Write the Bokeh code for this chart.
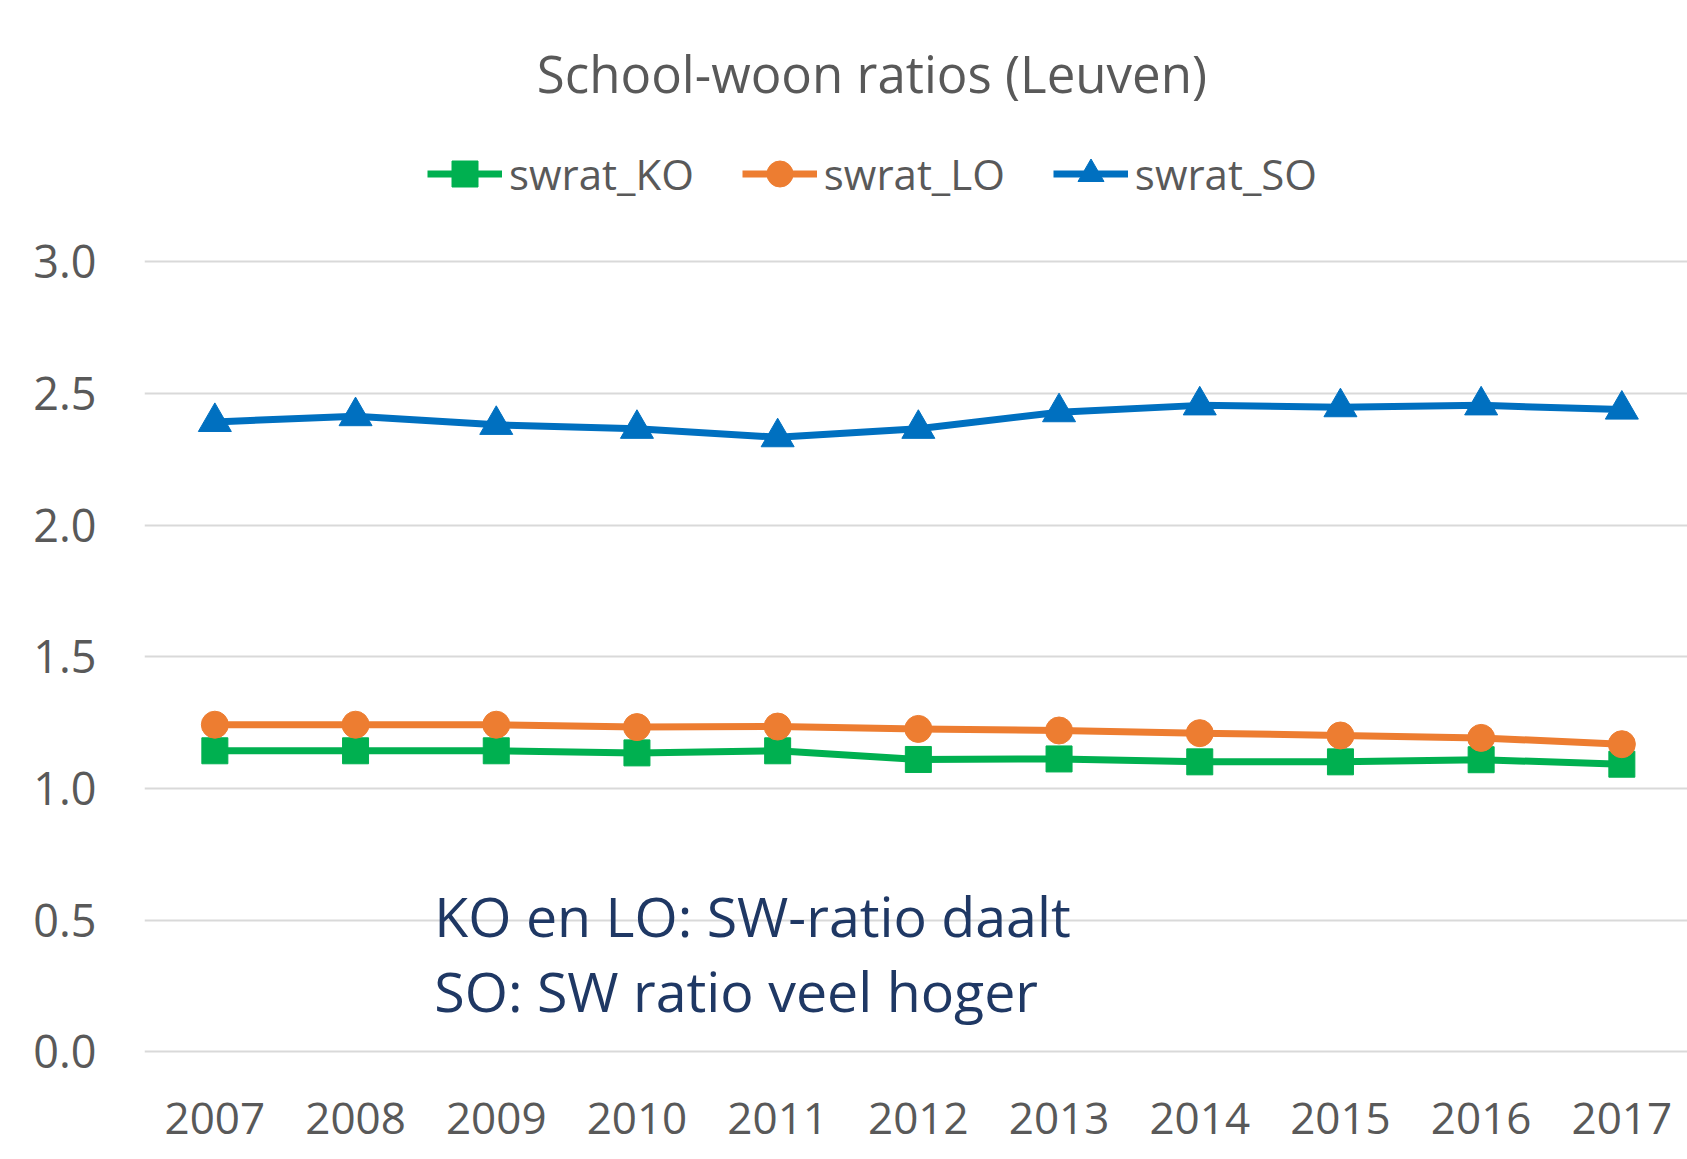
from bokeh.plotting import figure
from bokeh.models import Range1d, FixedTicker, NumeralTickFormatter, Legend, LegendItem, Label
from bokeh.embed import file_html
from bokeh.resources import INLINE

# ---------------- data ----------------
years = [2007, 2008, 2009, 2010, 2011, 2012, 2013, 2014, 2015, 2016, 2017]
year_labels = ["2007", "2008", "2009", "2010", "2011", "2012", "2013", "2014", "2015", "2016", "2017"]
swrat_KO = [1.143, 1.143, 1.143, 1.135, 1.143, 1.110, 1.112, 1.101, 1.101, 1.109, 1.092]
swrat_LO = [1.242, 1.242, 1.242, 1.233, 1.235, 1.226, 1.220, 1.210, 1.201, 1.192, 1.168]
swrat_SO = [2.392, 2.414, 2.381, 2.366, 2.334, 2.366, 2.429, 2.455, 2.448, 2.455, 2.439]
y_ticks = [0.0, 0.5, 1.0, 1.5, 2.0, 2.5, 3.0]
title_text = "School-woon ratios (Leuven)"
note_lines = ["KO en LO: SW-ratio daalt", "SO: SW ratio veel hoger"]

FONT = "Open Sans"
GREY = "#595959"
GREEN = "#00B050"
ORANGE = "#ED7D31"
BLUE = "#0070C0"
NAVY = "#1F3864"

# ---------------- layout ----------------
W, H = 1687, 1159
BL, BR, BT, BB = 144, 0, 0, 103
px_per_year = 140.7
px_per_unit = 263.27
frame_w = W - BL - BR
frame_h = H - BT - BB
zero_from_bottom = 4.8          # px between frame bottom and the 0.0 gridline
x0 = 2006.5
x1 = x0 + frame_w / px_per_year
y0 = -zero_from_bottom / px_per_unit
y1 = y0 + frame_h / px_per_unit

p = figure(width=W, height=H, output_backend="svg", toolbar_location=None,
           x_range=Range1d(x0, x1), y_range=Range1d(y0, y1),
           min_border_left=BL, min_border_right=BR, min_border_top=BT, min_border_bottom=BB)
p.outline_line_color = None
p.background_fill_color = "white"
p.border_fill_color = "white"

# axes
p.xaxis.ticker = FixedTicker(ticks=years)
p.xaxis.major_label_overrides = {y: l for y, l in zip(years, year_labels)}
p.yaxis.ticker = FixedTicker(ticks=y_ticks)
p.yaxis.formatter = NumeralTickFormatter(format="0.0")
for ax in (p.xaxis, p.yaxis):
    ax.axis_line_color = None
    ax.major_tick_line_color = None
    ax.minor_tick_line_color = None
    ax.major_label_text_font = FONT
    ax.major_label_text_color = GREY
p.yaxis.major_label_text_font_size = "45px"
p.xaxis.major_label_text_font_size = "44px"
p.yaxis.major_label_standoff = 42
p.xaxis.major_label_standoff = 40
p.xgrid.grid_line_color = None
p.ygrid.ticker = FixedTicker(ticks=y_ticks)
p.ygrid.grid_line_color = "#D9D9D9"
p.ygrid.grid_line_width = 2

# series
rk = p.line(years, swrat_KO, line_color=GREEN, line_width=7, line_join="round")
mk = p.scatter(years, swrat_KO, marker="square", size=26, fill_color=GREEN, line_color=GREEN)
rl = p.line(years, swrat_LO, line_color=ORANGE, line_width=7, line_join="round")
ml = p.scatter(years, swrat_LO, marker="circle", size=27, fill_color=ORANGE, line_color=ORANGE)
rs = p.line(years, swrat_SO, line_color=BLUE, line_width=7, line_join="round")
ms = p.scatter(years, swrat_SO, marker="triangle", size=33, fill_color=BLUE, line_color=BLUE)

legend = Legend(items=[LegendItem(label="swrat_KO", renderers=[rk, mk]),
                       LegendItem(label="swrat_LO", renderers=[rl, ml]),
                       LegendItem(label="swrat_SO", renderers=[rs, ms])],
                orientation="horizontal", location=(283, 850),
                glyph_width=75, glyph_height=65, label_standoff=7, spacing=48,
                padding=0, margin=0, border_line_color=None, background_fill_alpha=0,
                label_text_font=FONT, label_text_font_size="42px", label_text_color=GREY)
p.add_layout(legend, "center")

# title and notes
p.add_layout(Label(x=2011.67, y=3.716, text=title_text, text_align="center", text_baseline="middle",
                   text_font=FONT, text_font_size="51px", text_color=GREY))
p.add_layout(Label(x=2008.56, y=0.519, text=note_lines[0], text_align="left", text_baseline="middle",
                   text_font=FONT, text_font_size="55.5px", text_color=NAVY))
p.add_layout(Label(x=2008.56, y=0.233, text=note_lines[1], text_align="left", text_baseline="middle",
                   text_font=FONT, text_font_size="55.5px", text_color=NAVY))

open("out.html", "w").write(file_html(p, INLINE))
